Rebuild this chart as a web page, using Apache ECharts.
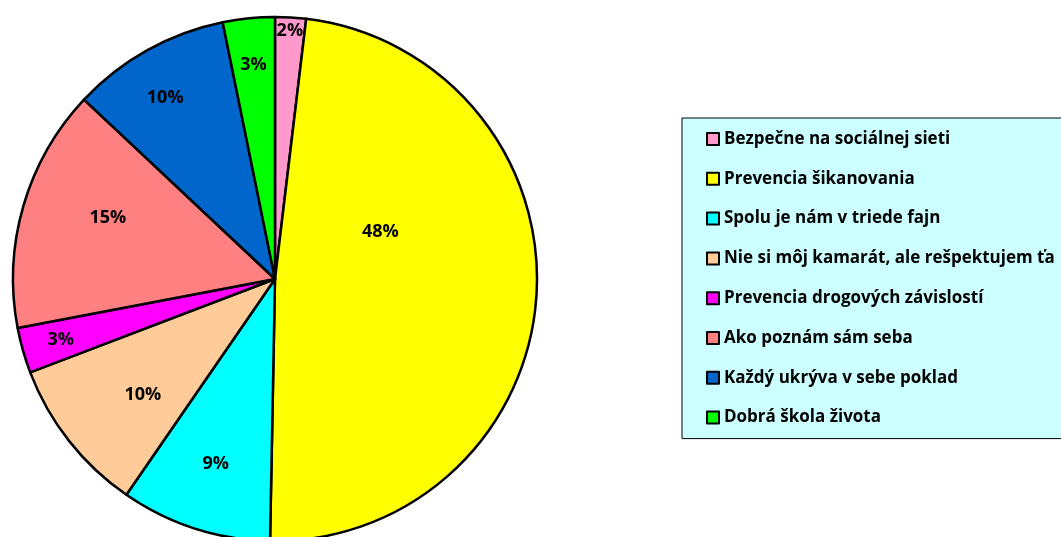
<!DOCTYPE html>
<html>
<head>
<meta charset="utf-8">
<script src="https://cdn.jsdelivr.net/npm/echarts@6/dist/echarts.min.js"></script>
<style>
  html, body { margin: 0; padding: 0; background: #fff; }
  #main { width: 1061px; height: 537px; }
</style>
</head>
<body>
<div id="main"></div>
<script>
// program names (legend order = slice order, clockwise from 12 o'clock)
var programs = [
  'Bezpečne na sociálnej sieti',
  'Prevencia šikanovania',
  'Spolu je nám v triede fajn',
  'Nie si môj kamarát, ale rešpektujem ťa',
  'Prevencia drogových závislostí',
  'Ako poznám sám seba',
  'Každý ukrýva v sebe poklad',
  'Dobrá škola života'
];
// share of each program (percent)
var shares = [1.9, 48.4, 9.3, 9.6, 2.8, 15.0, 9.8, 3.2];
var sliceColors = ['#FF99CC', '#FFFF00', '#00FFFF', '#FFCC99', '#FF00FF', '#FF8080', '#0066CC', '#00FF00'];

// where the % labels sit: fraction of radius, and angle shift (deg) off the mid-angle
var labelRadius = [0.95, 0.44, 0.74, 0.67, 0.85, 0.68, 0.81, 0.82];
var labelShift = [0, -28, 0, -3, 0, 4, -2, 0];

var cx = 275, cy = 279, R = 262;

var myChart = echarts.init(document.getElementById('main'));

var option = {
  animation: false,
  textStyle: { fontFamily: 'Open Sans', fontWeight: 'bold' },
  legend: {
    orient: 'vertical',
    left: 682,
    top: 118,
    backgroundColor: '#CCFFFF',
    borderColor: '#000',
    borderWidth: 1,
    padding: [11, 20, 11, 24],
    itemWidth: 12,
    itemHeight: 12,
    itemGap: 19.8,
    icon: 'rect',
    itemStyle: { borderColor: '#000', borderWidth: 2 },
    data: programs,
    textStyle: { fontFamily: 'Open Sans', fontWeight: 'bold', fontSize: 17, lineHeight: 20, color: '#000' }
  },
  series: [
    {
      type: 'pie',
      center: [cx, cy],
      radius: R,
      startAngle: 90,
      clockwise: true,
      percentPrecision: 0,
      silent: true,
      itemStyle: { borderColor: '#000', borderWidth: 2.5 },
      label: {
        position: 'inside',
        formatter: '{d}%',
        color: '#000',
        fontFamily: 'Open Sans',
        fontWeight: 'bold',
        fontSize: 18
      },
      labelLine: { show: false },
      labelLayout: function (p) {
        var r = p.labelRect;
        var lx = r.x + r.width / 2, ly = r.y + r.height / 2;
        var a = Math.atan2(ly - cy, lx - cx) + labelShift[p.dataIndex] * Math.PI / 180;
        var d = labelRadius[p.dataIndex] * R;
        return {
          x: cx + d * Math.cos(a),
          y: cy + d * Math.sin(a),
          align: 'center',
          verticalAlign: 'middle'
        };
      },
      data: programs.map(function (name, i) {
        return { name: name, value: shares[i], itemStyle: { color: sliceColors[i] } };
      })
    }
  ]
};

myChart.setOption(option);
</script>
</body>
</html>
